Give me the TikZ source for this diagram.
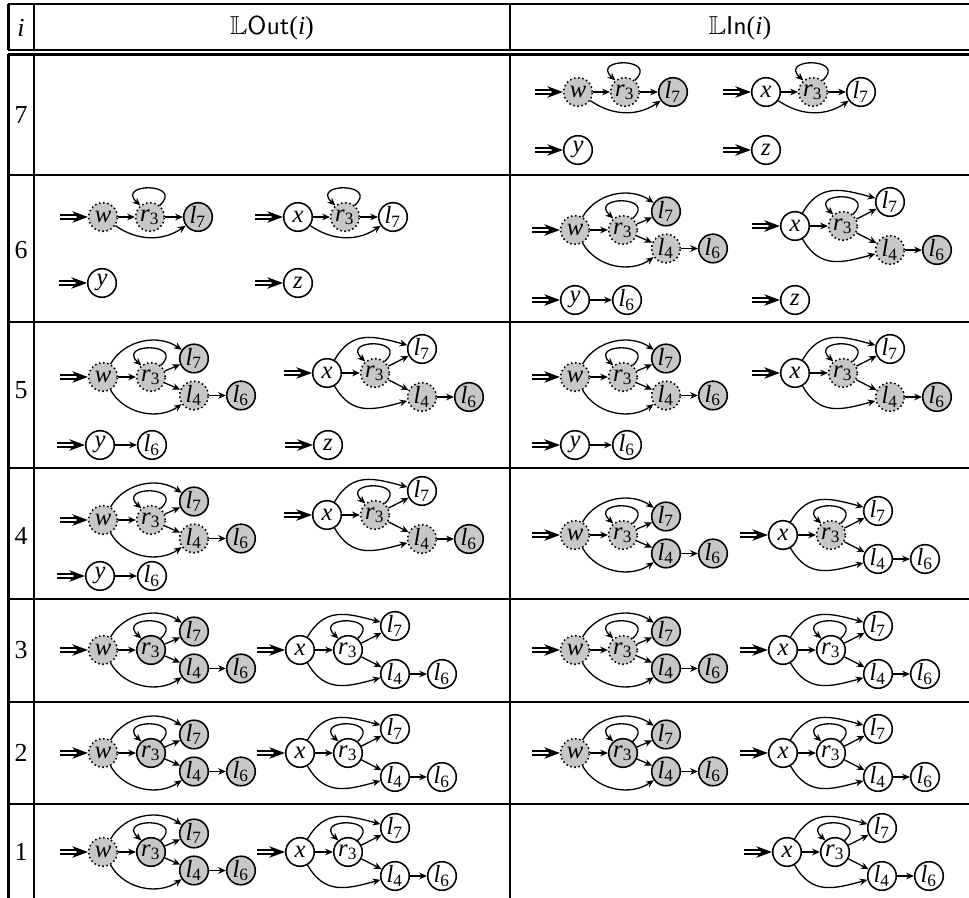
\documentclass[tikz,border=0pt]{standalone}
\usepackage{fontspec}
\setmainfont{Liberation Serif}
\usepackage{amssymb}
\usetikzlibrary{arrows.meta}
\newcommand\lab[2]{\textit{#1}\textsubscript{\upshape #2}}
\tikzset{
 st/.style={circle, draw, line width=0.6pt, minimum size=11pt, inner sep=0pt, font=\fontsize{9.5}{10}\selectfont\itshape},
 gd/.style={st, fill=black!22, densely dotted},
 gs/.style={st, fill=black!22},
 ws/.style={st, fill=white},
 edg/.style={line width=0.5pt, -{Stealth[length=3pt,width=2.6pt]}},
 init/.style={double, double distance=1.1pt, line width=0.55pt, -{Stealth[length=6pt,width=4.4pt,inset=1.8pt]}},
 rule/.style={line width=1pt},
 hd/.style={font=\fontsize{10}{12}\selectfont},
}
% small graph: #1 prefix, #2 origin, #3 label, #4 style first, #5 style l7
\newcommand\smallg[5]{%
\begin{scope}[shift={#2}]
\node[#4] (#1a) at (0,0) {\textit{#3}};
\node[gd] (#1r) at (47,0) {\lab{r}{3}};
\node[#5] (#1s) at (95,0) {\lab{l}{7}};
\coordinate (#1i) at (-43,0);
\draw[init] (#1i) -- (#1a);
\draw[edg] (#1a) -- (#1r);
\draw[edg] (#1r) -- (#1s);
\draw[edg] (#1a) to[bend right=35] (#1s);
\draw[edg] (#1r.50) .. controls +(25,23) and +(-25,23) .. (#1r.130);
\end{scope}}
% full graph
\newcommand\fullgen[8]{%
\begin{scope}[shift={#2}]
\node[#4] (#1a) at (0,0) {\textit{#3}};
\node[#5] (#1r) at (48,0) {\lab{r}{3}};
\node[#6] (#1s) at (\grX,\grD) {\lab{l}{7}};
\node[#7] (#1f) at (\grX,-\grD) {\lab{l}{4}};
\node[#8] (#1g) at (\grX+47,-\grD) {\lab{l}{6}};
\coordinate (#1i) at (-43,0);
\draw[init] (#1i) -- (#1a);
\draw[edg] (#1a) -- (#1r);
\draw[edg] (#1r) -- (#1s);
\draw[edg] (#1r) -- (#1f);
\draw[edg] (#1f) -- (#1g);
\draw[edg] (#1a) to[out=60,in=\grIn,looseness=\grL] (#1s);
\draw[edg] (#1a) to[out=-60,in=-\grIn,looseness=\grL] (#1f);
\draw[edg] (#1r.50) .. controls +(25,23) and +(-25,23) .. (#1r.130);
\end{scope}}
\newcommand\fullw[7]{\def\grX{91}\def\grD{18.5}\def\grIn{145}\def\grL{1}\fullgen{#1}{#2}{w}{#3}{#4}{#5}{#6}{#7}}
\newcommand\fullx[7]{\def\grX{95}\def\grD{24}\def\grIn{165}\def\grL{1.2}\fullgen{#1}{#2}{x}{#3}{#4}{#5}{#6}{#7}}
\newcommand\single[3]{%
\begin{scope}[shift={#2}]
\node[ws] (#1a) at (0,0) {\textit{#3}};
\coordinate (#1i) at (-43,0);
\draw[init] (#1i) -- (#1a);
\end{scope}}
\newcommand\chain[2]{%
\begin{scope}[shift={#2}]
\node[ws] (#1a) at (0,0) {\textit{y}};
\node[ws] (#1b) at (52,0) {\lab{l}{6}};
\coordinate (#1i) at (-43,0);
\draw[init] (#1i) -- (#1a);
\draw[edg] (#1a) -- (#1b);
\end{scope}}
\begin{document}
\begin{tikzpicture}[x=0.385pt,y=0.385pt]
\useasboundingbox (0,0) rectangle (969,-898);
% table rules
\draw[rule] (8.5,-4) -- (969,-4);
\draw[rule] (8.5,-50) -- (969,-50);
\draw[rule] (8.5,-54.5) -- (969,-54.5);
\foreach \yy in {175,322,468,599,702,804} \draw[rule] (8.5,-\yy) -- (969,-\yy);
\foreach \xx in {8.5,34,510} {\draw[rule] (\xx,-4) -- (\xx,-50); \draw[rule] (\xx,-54.5) -- (\xx,-898);}
% header
\node[hd] (hi) at (21,-28) {\textit{i}};
\node[hd] (hout) at (272,-28) {$\mathbb{L}$\textsf{Out}(\textit{i})};
\node[hd] (hin) at (740,-28) {$\mathbb{L}$\textsf{In}(\textit{i})};
% row numbers
\node[hd] (n7) at (21,-115) {7};
\node[hd] (n6) at (21,-250) {6};
\node[hd] (n5) at (21,-390) {5};
\node[hd] (n4) at (21,-536) {4};
\node[hd] (n3) at (21,-650) {3};
\node[hd] (n2) at (21,-753) {2};
\node[hd] (n1) at (21,-852) {1};
% row 7
\smallg{a7}{(578,-92)}{w}{gd}{gs}
\smallg{b7}{(766,-92)}{x}{ws}{ws}
\single{c7}{(578,-150)}{y}
\single{d7}{(766,-150)}{z}
% row 6
\smallg{a6o}{(103,-217)}{w}{gd}{gs}
\smallg{b6o}{(298,-217)}{x}{ws}{ws}
\single{c6o}{(102,-283)}{y}
\single{d6o}{(298,-283)}{z}
\fullw{a6i}{(575,-230)}{gd}{gd}{gs}{gd}{gs}
\fullx{b6i}{(795,-226)}{ws}{gd}{ws}{gd}{gs}
\chain{c6i}{(575,-300)}
\single{d6i}{(795,-300)}{z}
% row 5
\fullw{a5o}{(103,-377)}{gd}{gd}{gs}{gd}{gs}
\fullx{b5o}{(327,-373)}{ws}{gd}{ws}{gd}{gs}
\chain{c5o}{(100,-445)}
\single{d5o}{(328,-445)}{z}
\fullw{a5i}{(575,-377)}{gd}{gd}{gs}{gd}{gs}
\fullx{b5i}{(795,-373)}{ws}{gd}{ws}{gd}{gs}
\chain{c5i}{(575,-445)}
% row 4
\fullw{a4o}{(103,-520)}{gd}{gd}{gs}{gd}{gs}
\fullx{b4o}{(327,-515)}{ws}{gd}{ws}{gd}{gs}
\chain{c4o}{(100,-576)}
\fullw{a4i}{(575,-535)}{gd}{gd}{gs}{gs}{gs}
\fullx{b4i}{(783,-535)}{ws}{gd}{ws}{ws}{ws}
% row 3
\fullw{a3o}{(103,-650)}{gd}{gs}{gs}{gs}{gs}
\fullx{b3o}{(300,-650)}{ws}{ws}{ws}{ws}{ws}
\fullw{a3i}{(575,-650)}{gd}{gd}{gs}{gs}{gs}
\fullx{b3i}{(783,-650)}{ws}{ws}{ws}{ws}{ws}
% row 2
\fullw{a2o}{(103,-753)}{gd}{gs}{gs}{gs}{gs}
\fullx{b2o}{(300,-753)}{ws}{ws}{ws}{ws}{ws}
\fullw{a2i}{(575,-753)}{gd}{gs}{gs}{gs}{gs}
\fullx{b2i}{(783,-753)}{ws}{ws}{ws}{ws}{ws}
% row 1
\fullw{a1o}{(103,-852)}{gd}{gs}{gs}{gs}{gs}
\fullx{b1o}{(300,-852)}{ws}{ws}{ws}{ws}{ws}
\fullx{b1i}{(787,-852)}{ws}{ws}{ws}{ws}{ws}
\end{tikzpicture}
\end{document}
